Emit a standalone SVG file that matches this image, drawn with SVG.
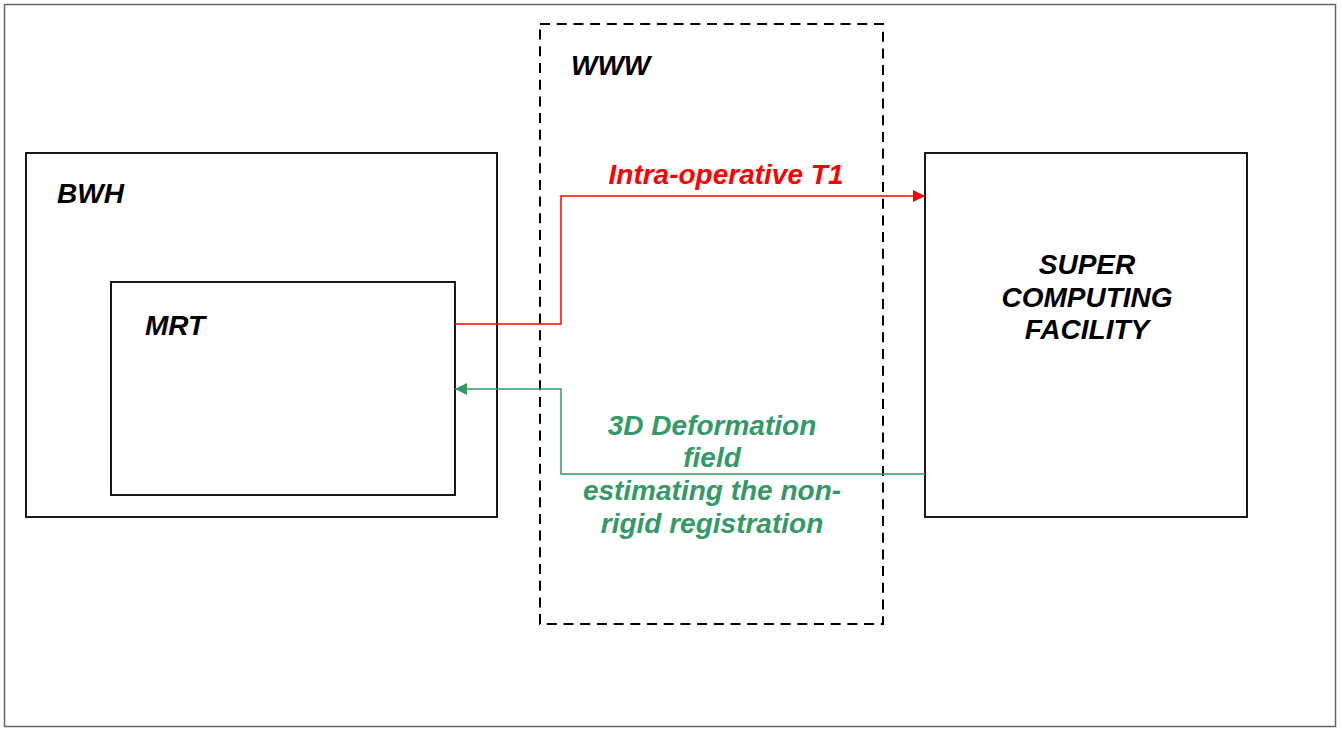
<svg xmlns="http://www.w3.org/2000/svg" width="1342" height="729" viewBox="0 0 1342 729">
<style>
.box{fill:none;stroke:#000;stroke-width:1.8}
.t{font-family:"Liberation Sans",Arial,sans-serif;font-weight:bold;font-style:italic;font-size:28px}
</style>
<defs>
<marker id="ar" viewBox="0 0 10 10" refX="10" refY="5" markerWidth="12" markerHeight="12" markerUnits="userSpaceOnUse" orient="auto"><path d="M0,0L10,5L0,10z" fill="#ff0000"/></marker>
<marker id="ag" viewBox="0 0 10 10" refX="10" refY="5" markerWidth="12" markerHeight="12" markerUnits="userSpaceOnUse" orient="auto"><path d="M0,0L10,5L0,10z" fill="#339966"/></marker>
</defs>
<rect x="0" y="0" width="1342" height="729" fill="#fff"/>
<rect x="4.5" y="4.5" width="1331" height="722" fill="none" stroke="#666" stroke-width="1.5"/>
<g id="www">
<rect x="540" y="24" width="343" height="600" fill="none" stroke="#000" stroke-width="2" stroke-dasharray="10,6.7"/>
<text class="t" x="571" y="75">WWW</text>
</g>
<g id="bwh">
<rect class="box" x="26" y="153" width="471" height="364"/>
<text class="t" x="57" y="203">BWH</text>
</g>
<g id="mrt">
<rect class="box" x="111" y="282" width="344" height="213"/>
<text class="t" x="145" y="335">MRT</text>
</g>
<g id="scf">
<rect class="box" x="925" y="153" width="322" height="364"/>
<text class="t" text-anchor="middle" x="1087" y="274">SUPER</text>
<text class="t" text-anchor="middle" x="1087" y="307">COMPUTING</text>
<text class="t" text-anchor="middle" x="1087" y="339">FACILITY</text>
</g>
<g id="connectors">
<polyline points="455,324 561,324 561,196 925,196" fill="none" stroke="#ff0000" stroke-width="1.5" marker-end="url(#ar)"/>
<text class="t" fill="#ff0000" text-anchor="middle" x="726" y="184">Intra-operative T1</text>
<polyline points="925,474 561,474 561,389 455,389" fill="none" stroke="#339966" stroke-width="1.5" marker-end="url(#ag)"/>
<g class="t" fill="#339966" text-anchor="middle">
<text x="712" y="435">3D Deformation</text>
<text x="712" y="467">field</text>
<text x="712" y="500">estimating the non-</text>
<text x="712" y="533">rigid registration</text>
</g>
</g>
</svg>
